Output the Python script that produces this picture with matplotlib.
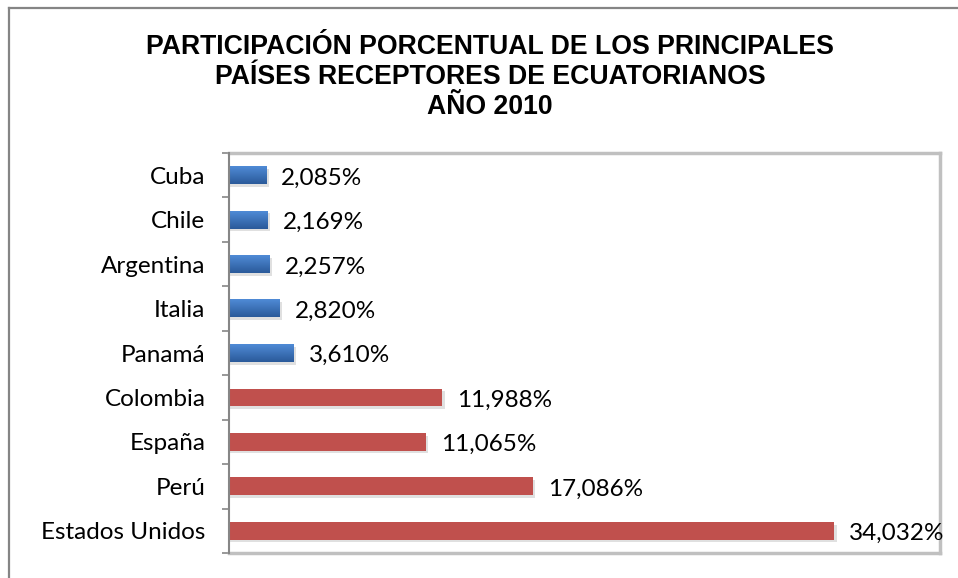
import matplotlib
matplotlib.use("Agg")
import matplotlib.pyplot as plt
import numpy as np
from matplotlib.patches import Rectangle

categories = ["Cuba", "Chile", "Argentina", "Italia", "Panamá",
              "Colombia", "España", "Perú", "Estados Unidos"]
values = [2.085, 2.169, 2.257, 2.820, 3.610, 11.988, 11.065, 17.086, 34.032]
labels = ["2,085%", "2,169%", "2,257%", "2,820%", "3,610%",
          "11,988%", "11,065%", "17,086%", "34,032%"]
groups = ["blue"] * 5 + ["red"] * 4

title = ("PARTICIPACIÓN PORCENTUAL DE LOS PRINCIPALES\n"
         "PAÍSES RECEPTORES DE ECUATORIANOS\nAÑO 2010")

W, H = 958, 578
fig = plt.figure(figsize=(W / 100, H / 100), dpi=100)
fig.patch.set_facecolor("white")

# outer chart border (top and left visible)
fig.add_artist(plt.Line2D([9 / W, 9 / W], [0, 1 - 8 / H], transform=fig.transFigure,
                          color="#858585", lw=1.6))
fig.add_artist(plt.Line2D([9 / W, 1], [1 - 8 / H, 1 - 8 / H], transform=fig.transFigure,
                          color="#858585", lw=1.6))

ax = fig.add_axes([229 / W, 1 - 553 / H, (940 - 229) / W, (553 - 153) / H])
n = len(categories)
ypos = np.arange(n)
bh = 0.4
fs = 17.5

for y, v, g in zip(ypos, values, groups):
    # soft shadow
    ax.add_patch(Rectangle((0, y - bh / 2 + 0.06), v + 0.15, bh, facecolor="#d9d9d9",
                           edgecolor="none", zorder=1, alpha=0.8))
    if g == "blue":
        grad = np.linspace(0, 1, 50).reshape(-1, 1)
        c_top = np.array([0x4f, 0x8b, 0xd6]) / 255
        c_bot = np.array([0x2b, 0x5a, 0x9a]) / 255
        img = c_top[None, None, :] * (1 - grad[..., None]) + c_bot[None, None, :] * grad[..., None]
        ax.imshow(img, extent=[0, v, y + bh / 2, y - bh / 2], aspect="auto",
                  origin="upper", zorder=2, interpolation="bilinear")
    else:
        ax.barh(y, v, height=bh, color="#c0504d", zorder=2)
    ax.annotate(labels[y], xy=(v, y), xytext=(11, -2), textcoords="offset points",
                va="center", ha="left", fontsize=fs, family="Lato", color="black")

ax.set_xlim(0, 40)
ax.set_ylim(n - 0.5, -0.5)
ax.set_yticks(ypos)
ax.set_yticklabels(categories, fontsize=fs, family="Lato")
ax.set_yticks(np.arange(-0.5, n, 1), minor=True)
ax.tick_params(axis="y", which="major", length=0, pad=17)
ax.tick_params(axis="y", which="minor", length=5, width=1.2, color="#868686")
ax.set_xticks([])
for s in ["top", "right", "bottom"]:
    ax.spines[s].set_color("#c0c0c0")
    ax.spines[s].set_linewidth(2.5)
ax.spines["left"].set_color("#868686")
ax.spines["left"].set_linewidth(1.5)
ax.spines["left"].set_zorder(5)

fig.text(490 / W, 1 - 34 / H, title, ha="center", va="top", fontsize=19.2,
         fontweight="bold", family="Liberation Sans", linespacing=1.2)

fig.savefig("out.png", dpi=100)
